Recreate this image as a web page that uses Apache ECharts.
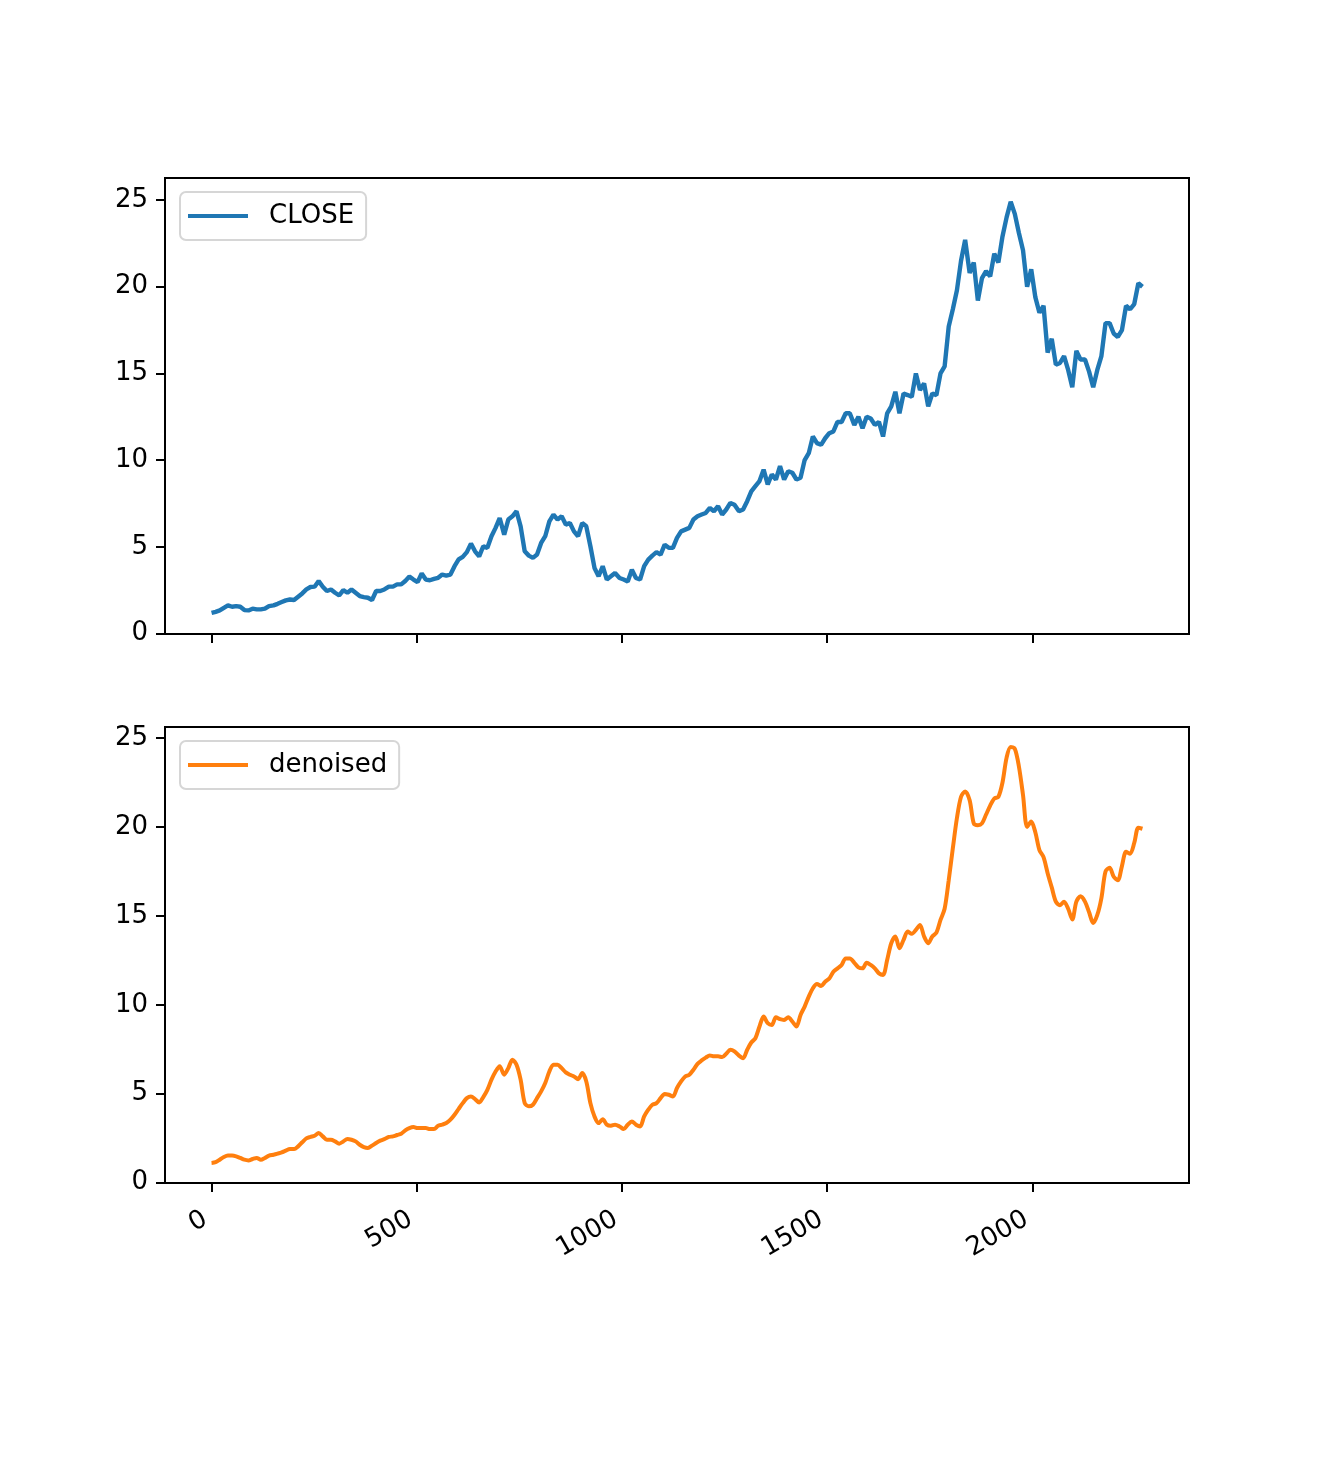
<!DOCTYPE html>
<html>
<head>
<meta charset="utf-8">
<script src="https://cdn.jsdelivr.net/npm/echarts@6/dist/echarts.min.js"></script>
<style>
  html, body { margin: 0; padding: 0; background: #fff; }
  #chart { width: 1322px; height: 1480px; }
</style>
</head>
<body>
<div id="chart"></div>
<script>
// samples every ~10 days
const LAST_DAY = 2268;
const xTicks = [0, 500, 1000, 1500, 2000];
const yTicks = [0, 5, 10, 15, 20, 25];

const closeValues = [
  1.19, 1.25, 1.33, 1.48, 1.62, 1.54, 1.58, 1.54, 1.35, 1.33,
  1.43, 1.39, 1.39, 1.43, 1.58, 1.62, 1.71, 1.81, 1.91, 1.96,
  1.93, 2.12, 2.31, 2.54, 2.68, 2.70, 3.03, 2.70, 2.45, 2.54,
  2.35, 2.20, 2.50, 2.35, 2.54, 2.35, 2.16, 2.10, 2.06, 1.93,
  2.45, 2.45, 2.54, 2.70, 2.70, 2.83, 2.83, 3.03, 3.28, 3.11,
  2.96, 3.46, 3.11, 3.07, 3.15, 3.21, 3.40, 3.34, 3.40, 3.88,
  4.27, 4.42, 4.69, 5.18, 4.74, 4.45, 5.03, 4.94, 5.61, 6.09,
  6.66, 5.70, 6.57, 6.76, 7.05, 6.18, 4.74, 4.49, 4.36, 4.55,
  5.22, 5.61, 6.47, 6.86, 6.57, 6.76, 6.28, 6.37, 5.89, 5.61,
  6.37, 6.18, 5.03, 3.78, 3.30, 3.88, 3.11, 3.30, 3.49, 3.20,
  3.11, 3.00, 3.68, 3.20, 3.11, 3.88, 4.26, 4.49, 4.69, 4.55,
  5.12, 4.94, 4.94, 5.51, 5.89, 5.99, 6.09, 6.57, 6.76, 6.86,
  6.95, 7.24, 7.05, 7.34, 6.86, 7.15, 7.53, 7.43, 7.05, 7.15,
  7.63, 8.20, 8.50, 8.79, 9.45, 8.60, 9.17, 8.88, 9.65, 8.88,
  9.36, 9.27, 8.88, 8.98, 10.0, 10.4, 11.36, 10.98, 10.88, 11.26,
  11.55, 11.65, 12.2, 12.2, 12.7, 12.7, 12.03, 12.5, 11.84, 12.5,
  12.4, 12.03, 12.2, 11.36, 12.7, 13.1, 13.94, 12.7, 13.84, 13.75,
  13.65, 15.0, 14.04, 14.42, 13.1, 13.84, 13.75, 15.0, 15.4, 17.7,
  18.7, 19.8, 21.5, 22.7, 20.8, 21.4, 19.2, 20.5, 20.9, 20.6,
  21.9, 21.4, 22.9, 24.0, 24.9, 24.2, 23.1, 22.1, 20.0, 21.0,
  19.4, 18.5, 18.9, 16.2, 17.0, 15.5, 15.6, 16.0, 15.2, 14.2,
  16.3, 15.8, 15.8, 15.1, 14.2, 15.2, 16.0, 17.9, 17.9, 17.3,
  17.1, 17.5, 18.9, 18.7, 19.0, 20.2, 20.0
];

const denoisedValues = [
  1.11, 1.15, 1.29, 1.44, 1.52, 1.52, 1.48, 1.39, 1.29, 1.25,
  1.33, 1.39, 1.29, 1.39, 1.52, 1.57, 1.63, 1.70, 1.80, 1.89,
  1.89, 2.04, 2.27, 2.49, 2.57, 2.64, 2.79, 2.60, 2.41, 2.41,
  2.32, 2.19, 2.32, 2.45, 2.41, 2.32, 2.13, 2.00, 1.95, 2.08,
  2.23, 2.36, 2.45, 2.57, 2.60, 2.68, 2.75, 2.94, 3.07, 3.13,
  3.07, 3.07, 3.07, 3.01, 3.01, 3.20, 3.26, 3.35, 3.54, 3.82,
  4.15, 4.47, 4.75, 4.85, 4.70, 4.51, 4.81, 5.22, 5.79, 6.25,
  6.54, 6.07, 6.44, 6.91, 6.63, 5.79, 4.47, 4.29, 4.38, 4.75,
  5.13, 5.60, 6.25, 6.63, 6.63, 6.44, 6.20, 6.07, 5.97, 5.82,
  6.16, 5.69, 4.47, 3.72, 3.35, 3.57, 3.26, 3.20, 3.26, 3.16,
  3.01, 3.26, 3.44, 3.26, 3.16, 3.72, 4.10, 4.38, 4.47, 4.75,
  4.99, 4.94, 4.85, 5.32, 5.69, 5.97, 6.07, 6.35, 6.68, 6.87,
  7.03, 7.15, 7.10, 7.10, 7.06, 7.25, 7.47, 7.38, 7.14, 7.00,
  7.47, 7.88, 8.12, 8.78, 9.34, 8.97, 8.87, 9.30, 9.19, 9.15,
  9.30, 9.06, 8.78, 9.43, 9.90, 10.46, 10.93, 11.17, 11.06, 11.30,
  11.48, 11.86, 12.05, 12.24, 12.61, 12.61, 12.36, 12.10, 12.05, 12.36,
  12.24, 12.05, 11.77, 11.68, 12.52, 13.46, 13.84, 13.18, 13.65, 14.12,
  13.99, 14.21, 14.49, 13.84, 13.46, 13.84, 14.06, 14.77, 15.4, 17.0,
  18.8, 20.5, 21.7, 22.0, 21.5, 20.2, 20.1, 20.2, 20.7, 21.2,
  21.6, 21.7, 22.5, 23.9, 24.5, 24.4, 23.4, 21.8, 20.0, 20.3,
  19.7, 18.7, 18.3, 17.4, 16.6, 15.8, 15.6, 15.8, 15.4, 14.8,
  15.8, 16.1, 15.8, 15.2, 14.6, 15.05, 16.0, 17.5, 17.7, 17.2,
  17.0, 17.8, 18.6, 18.5, 19.1, 19.96, 19.9
];

const days = closeValues.map((_, i) => Math.round(i * LAST_DAY / (closeValues.length - 1)));
const pairs = (vals) => vals.map((v, i) => [days[i], v]);

const font = 'DejaVu Sans';
const black = '#000';

function xAxisFor(idx, showLabels) {
  return {
    type: 'value',
    gridIndex: idx,
    min: -113.4,
    max: 2381.4,
    splitLine: { show: false },
    axisLine: { show: false, onZero: false },
    axisTick: {
      show: true,
      length: 9,
      lineStyle: { color: black, width: 2 },
      customValues: xTicks
    },
    axisLabel: {
      show: showLabels,
      customValues: xTicks,
      formatter: (v) => String(v),
      rotate: 30,
      margin: 31,
      padding: [0, 7, 0, 0],
      color: black,
      fontFamily: font,
      fontSize: 26
    }
  };
}

function yAxisFor(idx, min, max) {
  return {
    type: 'value',
    gridIndex: idx,
    min: min,
    max: max,
    splitLine: { show: false },
    axisLine: { show: false, onZero: false },
    axisTick: {
      show: true,
      length: 9,
      lineStyle: { color: black, width: 2 },
      customValues: yTicks
    },
    axisLabel: {
      customValues: yTicks,
      margin: 17,
      color: black,
      fontFamily: font,
      fontSize: 26
    }
  };
}

function legendFor(name, top) {
  return {
    data: [{ name: name, icon: 'rect' }],
    left: 180,
    top: top,
    orient: 'vertical',
    itemWidth: 60,
    itemHeight: 4,
    padding: [11, 12, 11, 8],
    borderColor: '#d6d6d6',
    borderWidth: 2,
    borderRadius: 6,
    backgroundColor: 'rgba(255,255,255,0.8)',
    textStyle: {
      color: black,
      fontFamily: font,
      fontSize: 26,
      padding: [0, 0, 0, 16]
    }
  };
}

const myChart = echarts.init(document.getElementById('chart'));
const option = {
  animation: false,
  backgroundColor: '#fff',
  grid: [
    { left: 165, top: 178, width: 1024, height: 456, show: true, borderColor: black, borderWidth: 2 },
    { left: 165, top: 727, width: 1024, height: 456, show: true, borderColor: black, borderWidth: 2 }
  ],
  legend: [legendFor('CLOSE', 192), legendFor('denoised', 741)],
  xAxis: [xAxisFor(0, false), xAxisFor(1, true)],
  yAxis: [yAxisFor(0, -0.03, 26.27), yAxisFor(1, -0.02, 25.62)],
  series: [
    {
      name: 'CLOSE',
      type: 'line',
      xAxisIndex: 0,
      yAxisIndex: 0,
      showSymbol: false,
      data: pairs(closeValues),
      itemStyle: { color: '#1f77b4' },
      lineStyle: { color: '#1f77b4', width: 4.4 }
    },
    {
      name: 'denoised',
      type: 'line',
      xAxisIndex: 1,
      yAxisIndex: 1,
      showSymbol: false,
      smooth: 0.3,
      data: pairs(denoisedValues),
      itemStyle: { color: '#ff7f0e' },
      lineStyle: { color: '#ff7f0e', width: 4 }
    }
  ]
};
myChart.setOption(option);
</script>
</body>
</html>
